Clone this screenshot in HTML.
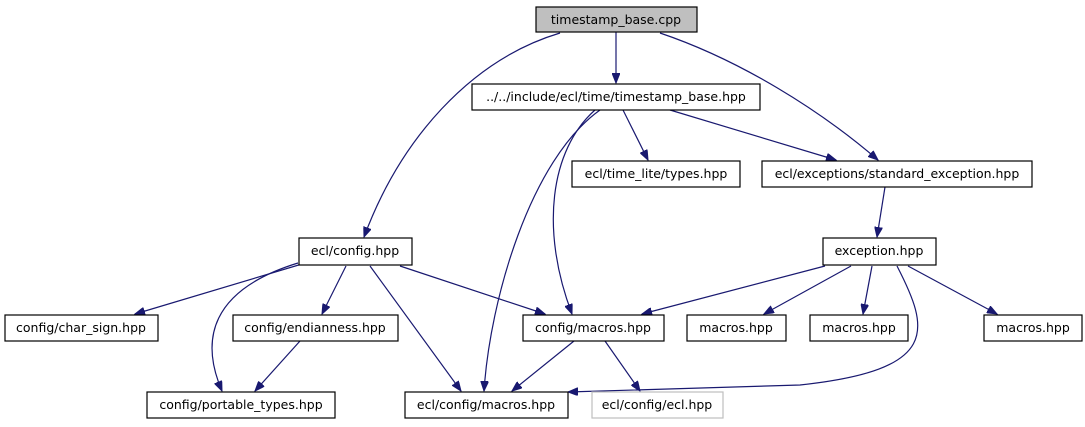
<!DOCTYPE html>
<html><head><meta charset="utf-8"><style>
html,body{margin:0;padding:0;background:#fff;}
svg{display:block;}
text{font-family:"DejaVu Sans","Liberation Sans",sans-serif;font-size:12.5px;fill:#000;}
</style></head><body>
<svg width="1085" height="427" viewBox="0 0 1085 427" xmlns="http://www.w3.org/2000/svg">
<defs>
<marker id="a" markerWidth="11" markerHeight="8" refX="10" refY="4" orient="auto" markerUnits="userSpaceOnUse">
<polygon points="0,0 10,4 0,8" fill="#191970" stroke="#191970"/>
</marker>
</defs>
<g fill="none" stroke="#191970" stroke-width="1.2" marker-end="url(#a)">
<path d="M560,33 C470,60 400,140 364,237"/>
<path d="M616,32 L616,83"/>
<path d="M660,33 C740,60 820,110 878,160"/>
<path d="M600,110 C530,160 490,300 484,391"/>
<path d="M595,110 C550,150 540,230 572,314"/>
<path d="M623,110 L648,160"/>
<path d="M670,110 L836,160"/>
<path d="M885,187 L877,237"/>
<path d="M302,264 L135,314"/>
<path d="M298,263 C210,290 200,340 222,391"/>
<path d="M346,266 L322,314"/>
<path d="M370,266 L461,391"/>
<path d="M400,266 L545,314"/>
<path d="M300,341 L255,391"/>
<path d="M574,341 L512,391"/>
<path d="M605,341 L640,391"/>
<path d="M825,266 L642,314"/>
<path d="M851,266 L764,314"/>
<path d="M872,266 L863,314"/>
<path d="M897,266 C930,330 940,370 800,385 L568,392"/>
<path d="M908,266 L997,314"/>
</g>
<g stroke="#000" stroke-width="1.2" fill="#fff">
<rect x="536" y="7" width="161" height="25" fill="#bfbfbf"/>
<rect x="472" y="84" width="288" height="26"/>
<rect x="572" y="161" width="168" height="26"/>
<rect x="762" y="161" width="270" height="26"/>
<rect x="299" y="238" width="113" height="27"/>
<rect x="823" y="238" width="113" height="27"/>
<rect x="5" y="315" width="153" height="26"/>
<rect x="233" y="315" width="165" height="26"/>
<rect x="523" y="315" width="141" height="26"/>
<rect x="687" y="315" width="99" height="26"/>
<rect x="810" y="315" width="98" height="26"/>
<rect x="984" y="315" width="98" height="26"/>
<rect x="147" y="392" width="188" height="26"/>
<rect x="405" y="392" width="163" height="26"/>
<rect x="592" y="392" width="131" height="26" stroke="#bfbfbf"/>
</g>
<g text-anchor="middle">
<text x="616" y="24">timestamp_base.cpp</text>
<text x="616" y="101">../../include/ecl/time/timestamp_base.hpp</text>
<text x="656" y="178">ecl/time_lite/types.hpp</text>
<text x="897" y="178">ecl/exceptions/standard_exception.hpp</text>
<text x="355" y="255">ecl/config.hpp</text>
<text x="879" y="255">exception.hpp</text>
<text x="81" y="332">config/char_sign.hpp</text>
<text x="315" y="332">config/endianness.hpp</text>
<text x="593" y="332">config/macros.hpp</text>
<text x="736" y="332">macros.hpp</text>
<text x="859" y="332">macros.hpp</text>
<text x="1033" y="332">macros.hpp</text>
<text x="241" y="409">config/portable_types.hpp</text>
<text x="486" y="409">ecl/config/macros.hpp</text>
<text x="657" y="409">ecl/config/ecl.hpp</text>
</g>
</svg>
</body></html>
